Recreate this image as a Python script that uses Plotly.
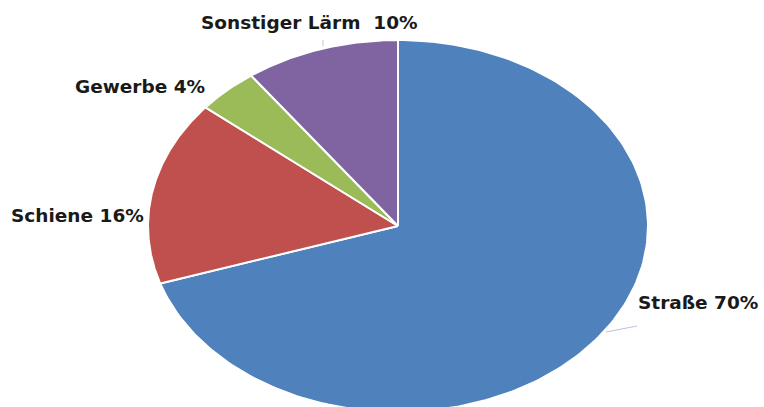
import numpy as np
import plotly.graph_objects as go

categories = ["Straße", "Schiene", "Gewerbe", "Sonstiger Lärm"]
values = [70, 16, 4, 10]
label_texts = ["Straße 70%", "Schiene 16%", "Gewerbe 4%", "Sonstiger Lärm  10%"]
colors = ["#4F81BD", "#C0504D", "#9BBB59", "#8064A2"]

W, H = 764, 407
cx_px, cy_px = 398, 226
rx_px, ry_px = 250, 186

fig = go.Figure()
total = sum(values)
start = 0.0
for cat, v, col in zip(categories, values, colors):
    a0 = start / total * 2 * np.pi
    a1 = (start + v) / total * 2 * np.pi
    t = np.linspace(a0, a1, 200)
    xs = np.concatenate([[0], np.sin(t), [0]])
    ys = np.concatenate([[0], np.cos(t), [0]])
    fig.add_trace(go.Scatter(x=xs, y=ys, mode="lines", fill="toself",
                             fillcolor=col, line=dict(color="white", width=2),
                             name=cat, hoverinfo="name", showlegend=False))
    start += v

x_range = [-cx_px / rx_px, (W - cx_px) / rx_px]
y_range = [-(H - cy_px) / ry_px, cy_px / ry_px]

def px2x(px):
    return (px - cx_px) / rx_px

def py2y(py):
    return (cy_px - py) / ry_px

label_pos = [(698, 302), (77, 215), (140, 86), (309, 22)]
for txt, (lx, ly) in zip(label_texts, label_pos):
    fig.add_annotation(x=px2x(lx), y=py2y(ly), text="<b>" + txt + "</b>",
                       showarrow=False, xanchor="center", yanchor="middle",
                       font=dict(family="DejaVu Sans", size=18.5, color="#1a1a1a"))

# leader lines
fig.add_trace(go.Scatter(x=[px2x(606), px2x(637)], y=[py2y(332), py2y(326)], mode="lines",
                         line=dict(color="#b8c4d4", width=1), hoverinfo="skip", showlegend=False))
fig.add_trace(go.Scatter(x=[px2x(323), px2x(323)], y=[py2y(40), py2y(46)], mode="lines",
                         line=dict(color="#c8c8c8", width=1), hoverinfo="skip", showlegend=False))

fig.update_layout(
    width=W, height=H, margin=dict(l=0, r=0, t=0, b=0),
    paper_bgcolor="white", plot_bgcolor="white",
    xaxis=dict(range=x_range, visible=False, fixedrange=True),
    yaxis=dict(range=y_range, visible=False, fixedrange=True),
)
fig.write_html("out.html")
